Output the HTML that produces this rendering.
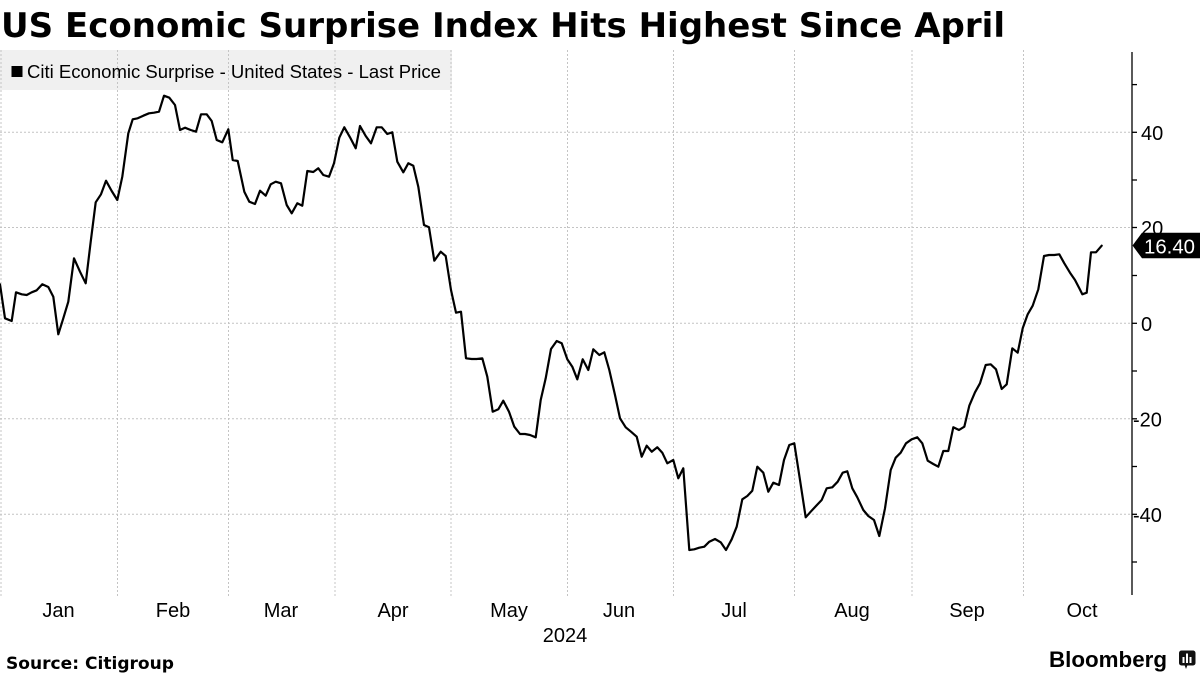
<!DOCTYPE html>
<html>
<head>
<meta charset="utf-8">
<style>
html,body{margin:0;padding:0;background:#fff;}
svg{display:block;}
</style>
</head>
<body>
<svg width="1200" height="675" viewBox="0 0 1200 675" xmlns="http://www.w3.org/2000/svg">
<rect x="0" y="0" width="1200" height="675" fill="#fff"/>
<!-- Title -->
<text x="1" y="37" font-family="'DejaVu Sans', 'Liberation Sans', sans-serif" font-weight="bold" font-size="34" textLength="1004" lengthAdjust="spacingAndGlyphs" fill="#000">US Economic Surprise Index Hits Highest Since April</text>

<!-- Legend box -->
<rect x="0" y="50" width="452" height="40" fill="#f0f0f0"/>
<rect x="11.5" y="66" width="11" height="11" fill="#000"/>
<text x="27" y="78" font-family="'Liberation Sans', sans-serif" font-size="18" textLength="414" lengthAdjust="spacingAndGlyphs" fill="#000">Citi Economic Surprise - United States - Last Price</text>

<!-- Gridlines -->
<g stroke="#c4c4c4" stroke-width="1" stroke-dasharray="2,2" fill="none">
  <line x1="1" y1="50" x2="1" y2="597"/>
  <line x1="117.5" y1="50" x2="117.5" y2="597"/>
  <line x1="228.5" y1="50" x2="228.5" y2="597"/>
  <line x1="335" y1="50" x2="335" y2="597"/>
  <line x1="451" y1="50" x2="451" y2="597"/>
  <line x1="567.5" y1="50" x2="567.5" y2="597"/>
  <line x1="673.5" y1="50" x2="673.5" y2="597"/>
  <line x1="794.5" y1="50" x2="794.5" y2="597"/>
  <line x1="912" y1="50" x2="912" y2="597"/>
  <line x1="1023.5" y1="50" x2="1023.5" y2="597"/>
  <line x1="0" y1="132.3" x2="1132" y2="132.3"/>
  <line x1="0" y1="227.5" x2="1132" y2="227.5"/>
  <line x1="0" y1="323.3" x2="1132" y2="323.3"/>
  <line x1="0" y1="418.8" x2="1132" y2="418.8"/>
  <line x1="0" y1="514.3" x2="1132" y2="514.3"/>
</g>

<!-- Right axis -->
<line x1="1132" y1="52" x2="1132" y2="595" stroke="#000" stroke-width="1.3"/>
<g stroke="#000" stroke-width="1.3">
  <line x1="1132" y1="84.6" x2="1137" y2="84.6"/>
  <line x1="1132" y1="132.3" x2="1137" y2="132.3"/>
  <line x1="1132" y1="180" x2="1137" y2="180"/>
  <line x1="1132" y1="227.5" x2="1137" y2="227.5"/>
  <line x1="1132" y1="275.5" x2="1137" y2="275.5"/>
  <line x1="1132" y1="323.3" x2="1137" y2="323.3"/>
  <line x1="1132" y1="371" x2="1137" y2="371"/>
  <line x1="1132" y1="418.8" x2="1137" y2="418.8"/>
  <line x1="1132" y1="466.5" x2="1137" y2="466.5"/>
  <line x1="1132" y1="514.3" x2="1137" y2="514.3"/>
  <line x1="1132" y1="562" x2="1137" y2="562"/>
</g>
<g font-family="'Liberation Sans', sans-serif" font-size="20" fill="#000">
  <text x="1141" y="140">40</text>
  <text x="1141" y="235">20</text>
  <text x="1141" y="331">0</text>
  <text x="1133" y="426.5">-20</text>
  <text x="1133" y="522">-40</text>
</g>

<!-- Series -->
<polyline fill="none" stroke="#000" stroke-width="2.2" stroke-linejoin="round" stroke-linecap="round" points="
0,284.3 5,318.3 11.7,321 16,292.3 21.7,294.3 26.7,295 31.7,292.3 36.7,290.3 42.3,284.3 48.3,287 53.3,296.7 58.3,334.3 63.3,318.3 68.3,301.7 74,258.3 80,271.7 85.7,283.3 90.7,241.7 95.7,202.3 101,194.3 106,180.7 111.7,191 117.3,200 122.3,176.7 128.3,133.3 132.7,119.3 137.7,118.3 143.3,115.7 149,113.3 154,112.7 159,111.7 164,95.7 169.3,97.7 175,105 180,130 185,127.7 190.7,130 196,131.7 201,114.3 206.7,114.3 211.7,121 216.7,140 222.3,142.3 228.3,129.3 232.7,160 237.7,161 244.3,191.7 249.3,201.7 255,204 260,190.7 265.7,195.7 270.7,184.3 275.7,181.7 281,183.3
286.7,205 291.7,213.3 297.3,203.3 302.3,205.7 307.3,171 313.3,172 318.3,168.3 323.3,175 329,176.7 334,163.3 339.3,137.7 344.3,127.3 350,137.3 355.7,148.3 360,126 365.7,136 371,143.3 376.7,127.3 381.7,127.3 387.3,134 392.3,132.3 397.3,161.7 403.3,172.3 408.3,163.3 413.3,165.7 418.3,186.7 424,225 429,227.3 434.3,260.7 440.7,251.7 445.7,256 451,290 456,312.7 461,311.7 466,358.3 471.7,359 476.7,359 482.3,358.3 487.3,376.7 492.7,411.7 498.3,409.3 503.3,400.7 509,411.7 514.3,426.7 520,434 525,434 530,435 535.7,437.3 540.7,400 545.7,378.3 551,349 556.7,341 561.7,343.3
567.3,359.3 572.3,366.7 577.3,379.3 582.7,359.3 588.3,370 593.3,349.3 599.3,355 604.3,352.3 609.3,370 615,395 620,418.3 625.7,427.3 631,431.7 636.7,436.7 641.7,456.7 646.7,445.7 651.7,451.7 657.3,447.3 662.3,452.7 667.3,463.3 673.3,460 678.3,478.3 683.3,468.3 689.3,550 694.3,549.3 699.3,547.7 704.3,546.7 709.3,541.7 715,539 720.7,542.3 726,550 731.7,539.3 736.7,526.7 742.3,499.3 747.3,496 752.3,490.7 757.3,466.7 763.3,472.7 768.3,491.7 773.3,482.7 779,485 784,460 789.3,445 794.3,443.3 800,480 805.7,517.3 810.7,511.7 816,506 821.7,500 826.7,488.3 832.3,487.3 837.7,481.7 842.7,472.7 847.3,471.3
852.3,488.3 857.3,497.3 863.3,510 868.3,516 874,520 879.3,536 885,508.3 890.7,470 895.7,457.7 900.7,452.7 906,443.3 911.7,439.3 917.3,437.3 922.3,443.3 927.7,460.7 933.3,464 938.3,466.7 943.3,451 948.3,451 953.3,427.3 959,430 964.3,426.7 969.3,405.7 975,392.3 980,383.3 985.7,365 990.7,364.3 996,369.3 1001.7,389 1006.7,384.3 1012.3,348.3 1017.7,352.7 1022.7,328.3 1027.7,314.3 1032.7,305.7 1038.3,289.3 1044,256 1049,255 1054.3,255 1059.3,254.3 1064.3,263.3 1070,272.7 1075,280 1079.3,288.3 1082.3,294.3 1086.7,292.7 1091,252.3 1096,252.3 1101.7,245.7"/>

<!-- Last value marker -->
<polygon points="1132.5,245.5 1142,232.7 1200,232.7 1200,258.3 1142,258.3" fill="#000"/>
<text x="1144" y="253.5" font-family="'Liberation Sans', sans-serif" font-size="20" fill="#fff" textLength="51" lengthAdjust="spacingAndGlyphs">16.40</text>

<!-- X axis labels -->
<g font-family="'Liberation Sans', sans-serif" font-size="20" fill="#000" text-anchor="middle">
  <text x="58.5" y="617">Jan</text>
  <text x="173" y="617">Feb</text>
  <text x="281" y="617">Mar</text>
  <text x="393" y="617">Apr</text>
  <text x="509" y="617">May</text>
  <text x="619" y="617">Jun</text>
  <text x="734" y="617">Jul</text>
  <text x="852" y="617">Aug</text>
  <text x="967" y="617">Sep</text>
  <text x="1082" y="617">Oct</text>
  <text x="565" y="642">2024</text>
</g>

<!-- Footer -->
<text x="6" y="669" font-family="'DejaVu Sans', 'Liberation Sans', sans-serif" font-weight="bold" font-size="17" textLength="168" lengthAdjust="spacingAndGlyphs" fill="#000">Source: Citigroup</text>
<text x="1049" y="667" font-family="'Liberation Sans', sans-serif" font-weight="bold" font-size="22" textLength="118" lengthAdjust="spacingAndGlyphs" fill="#000">Bloomberg</text>
<g>
  <rect x="1179" y="650.5" width="16.5" height="15" rx="2.5" fill="#111"/>
  <polygon points="1184.5,665 1187.5,665 1186,669" fill="#111"/>
  <rect x="1182.5" y="657" width="2" height="6" fill="#fff"/>
  <rect x="1186" y="653.5" width="2" height="9.5" fill="#fff"/>
  <rect x="1189.5" y="657" width="2" height="6" fill="#fff"/>
</g>
</svg>
</body>
</html>
